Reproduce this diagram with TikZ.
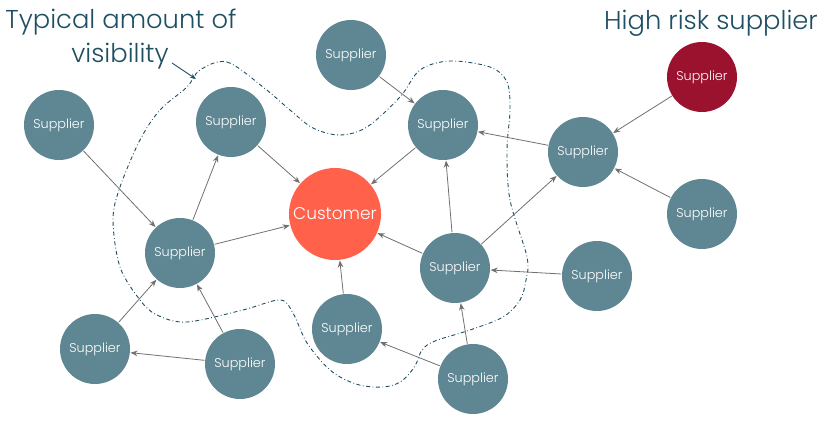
\documentclass[tikz,border=0pt]{standalone}
\usepackage{fontspec}
\setmainfont{Poppins Light}
\usetikzlibrary{arrows.meta}
\definecolor{supp}{HTML}{5F8793}
\definecolor{cust}{HTML}{FF614A}
\definecolor{risk}{HTML}{9B122E}
\definecolor{ttl}{HTML}{1F4F63}
\definecolor{edgec}{HTML}{707070}
\tikzset{
  supplier/.style={circle, fill=supp, draw=none, minimum size=70pt, inner sep=0pt, text=white, font=\fontsize{12.8}{14}\selectfont},
  riskbox/.style={supplier, fill=risk},
  custbox/.style={circle, fill=cust, draw=none, minimum size=92pt, inner sep=0pt, text=white, font=\fontsize{17}{18}\selectfont},
  edge/.style={draw=edgec, line width=0.8pt, -{Stealth[length=7pt,width=5.5pt]}, shorten >=0.5pt, shorten <=0.5pt},
  titletext/.style={text=ttl, font=\fontsize{25.8}{30}\selectfont, inner sep=0pt, anchor=base},
  visline/.style={draw=ttl, line width=0.9pt, dash pattern=on 4pt off 2.5pt on 0.8pt off 2.5pt},
  pointer/.style={draw=ttl, line width=0.9pt, -{Stealth[length=6pt,width=4.5pt]}}
}
\begin{document}
\begin{tikzpicture}[x=1pt,y=-1pt]
\useasboundingbox (0,0) rectangle (831,423);

% visibility boundary
\draw[visline] plot[smooth cycle, tension=0.55] coordinates {
 (200,70) (227,62) (263,87) (290,110) (313,128) (340,135) (367,127) (400,97) (420,70) (450,61) (490,67) (507,82) (510,110) (507,150) (510,200) (527,257) (526,280) (520,300) (503,317) (470,330) (435,341) (422,350) (415,366) (403,380) (390,386) (373,387) (353,383) (330,370) (307,343) (293,313) (280,300) (243,310) (187,322) (157,315) (140,300) (120,267) (113,220) (120,187) (140,140) (160,110) (187,87)};

% titles
\node[titletext] (t1) at (121,28) {Typical amount of};
\node[titletext] (t2) at (120,62) {visibility};
\node[titletext] (t3) at (711,29) {High risk supplier};
\coordinate (vstart) at (172,63);
\coordinate (vtip) at (196,79);
\draw[pointer] (vstart) -- (vtip);

% nodes
\node[supplier] (s1) at (351,55) {Supplier};
\node[riskbox] (hr) at (702,77) {Supplier};
\node[supplier] (s2) at (59,125) {Supplier};
\node[supplier] (s3) at (231,122) {Supplier};
\node[supplier] (s4) at (443,125) {Supplier};
\node[supplier] (s5) at (583,152) {Supplier};
\node[custbox] (c) at (335,214) {Customer};
\node[supplier] (s6) at (702,214) {Supplier};
\node[supplier] (s7) at (180,253) {Supplier};
\node[supplier] (s8) at (455,268) {Supplier};
\node[supplier] (s9) at (597,276) {Supplier};
\node[supplier] (s10) at (347,329) {Supplier};
\node[supplier] (s11) at (95,349) {Supplier};
\node[supplier] (s12) at (240,364) {Supplier};
\node[supplier] (s13) at (473,379) {Supplier};

% edges
\draw[edge] (s1) -- (s4);
\draw[edge] (s3) -- (c);
\draw[edge] (s4) -- (c);
\draw[edge] (s5) -- (s4);
\draw[edge] (hr) -- (s5);
\draw[edge] (s6) -- (s5);
\draw[edge] (s8) -- (s5);
\draw[edge] (s8) -- (s4);
\draw[edge] (s8) -- (c);
\draw[edge] (s9) -- (s8);
\draw[edge] (s13) -- (s8);
\draw[edge] (s13) -- (s10);
\draw[edge] (s10) -- (c);
\draw[edge] (s7) -- (c);
\draw[edge] (s7) -- (s3);
\draw[edge] (s2) -- (s7);
\draw[edge] (s11) -- (s7);
\draw[edge] (s12) -- (s7);
\draw[edge] (s12) -- (s11);
\end{tikzpicture}
\end{document}
